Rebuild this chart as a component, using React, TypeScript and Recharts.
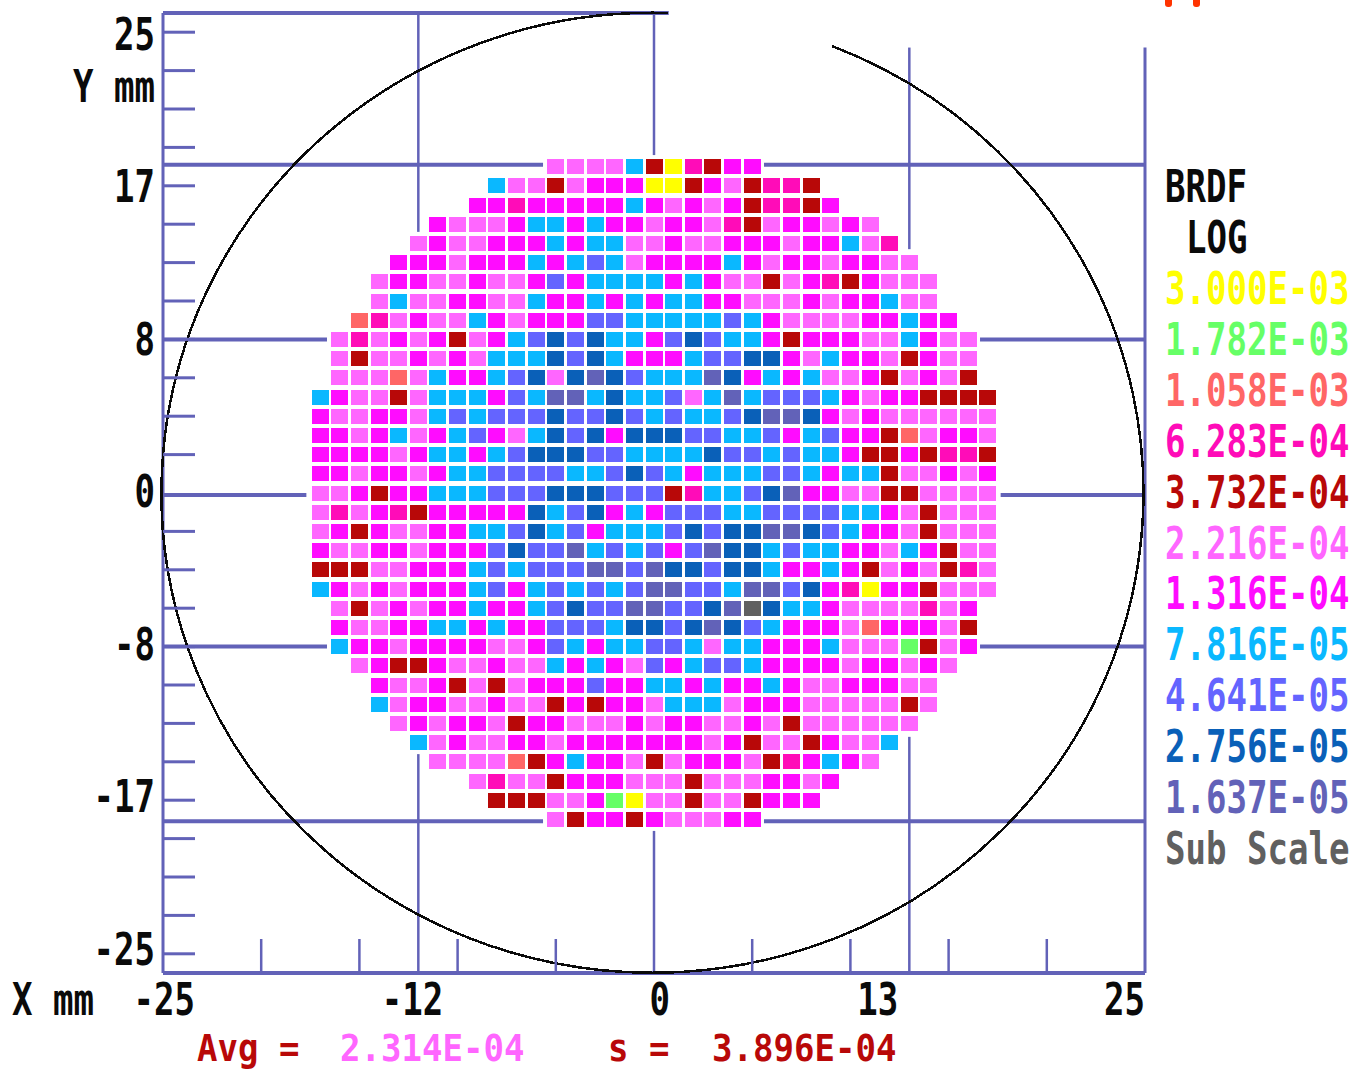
import { ScatterChart, Scatter, XAxis, YAxis, ReferenceLine, ReferenceDot } from "recharts";

const levelCodes = ["Y", "G", "O", "H", "R", "L", "M", "C", "P", "B", "S", "D"];
const levelLabels = [
  "3.000E-03", "1.782E-03", "1.058E-03", "6.283E-04", "3.732E-04", "2.216E-04",
  "1.316E-04", "7.816E-05", "4.641E-05", "2.756E-05", "1.637E-05", "Sub Scale",
];
const levelColors = [
  "#ffff00", "#66ff66", "#ff6666", "#ff0cb8", "#b80808", "#ff66ff",
  "#ff0cff", "#0ab8ff", "#6464ff", "#0a60b8", "#6262b8", "#606060",
];

// one string per die row, top (y = 17) to bottom (y = -17); rowStarts gives the first column of each
const rowStarts = [12, 9, 8, 6, 5, 4, 3, 3, 2, 1, 1, 1, 0, 0, 0, 0, 0, 0, 0, 0, 0, 0, 0, 1, 1, 1, 2, 3, 3, 4, 5, 6, 8, 9, 12];
const rowCells = [
  "LLLLCRYHRMM",
  "CLLRLMMMYYRMLRHHR",
  "MMHMMMMMCMLMLMRHHRM",
  "MLLLMCCMCMMLMMLHRLMMLML",
  "LMLLMMMCMCCLLMLLMMMLMMCLH",
  "MMMLMMMCMCPCLMMMMCMLMMLMMLL",
  "LMMLLMLLMPMCCCCMCMLLRLMHRMLLL",
  "LCLLMMLLCMMCMCMCCMMLLLMLMMCLL",
  "OHLMLLCMLMMMPPCCCCCPCMLLLLMMCMM",
  "LHLMLMRLMCPBPBCCMPBPCCMRMMMLLCMLL",
  "LRLLMLMLCCCBPBCMMMCPPBBMLCMMLRMLL",
  "LLLOLCMMCPBLBSBPCCCSBMCMCLLMRLMLR",
  "CMLLRLCCCMPCSSCBCCPLCSCPPPCMLMMRRRR",
  "MLLMMLCPCPPPBPPBPCPCCPBSSBMLMLLLLLL",
  "MMLMCLMCPMLCBPBMBBBPPCCPMCPMMROLMML",
  "MMMMLMCCMCPBBBPPCCCCBPPCPCCMRRMRHHR",
  "MMLMMLMCCPPPPCCPBPCMCCCPPCMCCRLLMLM",
  "LLMRMMCCCPPPBBBPPPRHCCPBSMMLLRRLLLL",
  "LHLMHRMMMMMBCPBMCMPPPCCPPPPCCMLRLLL",
  "LMRMLLMMCCPBCPMCCCPBPBBSSBPCMMLRLLL",
  "MLLMMLMMMPBPPSCPCPMPSBBCPCCMMLCMRLL",
  "RRRLLMMMCPCPPPSSPSBBPBBCMMCMRLMLRHL",
  "CMLMLMMMCPMCPCPCPSSPPCSSPBMHYMMRLLL",
  "LRLMLMMCMMCPBPPSSPPBSDBCCMLLLLHLM",
  "MLLMMCCMCMMPPPCBBPBSBPCMMMLOMMMLR",
  "CMMLMMMMLLMPCMCCPPCLCCMMMCLLLGRLM",
  "LMRRMLLMLLCMCMLPMCPPCMMMMLMMLML",
  "MLLMRLRLMMMPMMCCMCMMCMLLMMMLL",
  "CLMMLLMLLRMRMMLCCCLMMMLLLLLRL",
  "LMLMMLRMMLLLMLMMLLMLRLLLLLL",
  "CLMLLMMLMMMMMMMLMRLLRMLLC",
  "LLLLORMCMMLRLMMMLRHMCML",
  "LHLLRMMMLLLRLLLMMLM",
  "RRRLLMGYLLRLLRMMM",
  "LRMMRMLLLMM",
];

const xMinorTicks = [-25, -20, -15, -12, -10, -5, 0, 5, 10, 13, 15, 20, 25];
const yMinorTicks = [-24, -22, -20, -18, -16, -14, -12, -10, -8, -6, -4, -2, 0, 2, 4, 6, 8, 10, 12, 14, 16, 18, 20, 22, 24];
const xTickValues = [-25, -12, 0, 13, 25];
const xTickLabels = ["-25", "-12", "0", "13", "25"];
const xTickShift = [32, 25, 16, -11, 0];
const yTickValues = [24, 16, 8, 0, -8, -16, -24];
const yTickLabels = ["25", "17", "8", "0", "-8", "-17", "-25"];
const yTickShift = [3, 1, 1, -1, -2, -3, -4];

const avgValue = "2.314E-04";
const sigmaValue = "3.896E-04";

const frameColor = "#6262b8";
const charWidth = 20.5;

const cellData = levelCodes.map((code) => {
  const points: { x: number; y: number }[] = [];
  rowCells.forEach((row, r) => {
    row.split("").forEach((c, i) => {
      if (c === code) points.push({ x: rowStarts[r] + i - 17, y: 17 - r });
    });
  });
  return points;
});

function DosText({ x, y, text, color = "#0a0a0a", anchor = "start", size = 44 }: any) {
  const scaleX = charWidth / (size * 0.602);
  return (
    <text
      transform={`translate(${x} ${y + 15}) scale(${scaleX} 1)`}
      fill={color}
      textAnchor={anchor}
      fontFamily="'DejaVu Sans Mono', monospace"
      fontWeight="bold"
      fontSize={size}
    >
      {text}
    </text>
  );
}

function DieCell({ cx, cy, fill }: any) {
  return <rect x={cx - 8.5} y={cy - 7.5} width={17} height={15} fill={fill} shapeRendering="crispEdges" />;
}

function WaferOutline({ cx, cy }: any) {
  const rx = 491;
  const ry = 480;
  return (
    <path
      d={`M ${cx + 14} ${cy - ry} A ${rx} ${ry} 0 1 0 ${cx + 178} ${cy - 447}`}
      fill="none"
      stroke="#0a0a0a"
      strokeWidth={2.5}
      shapeRendering="crispEdges"
    />
  );
}

function XTick({ x, y, payload }: any) {
  const v = payload.value;
  const idx = xTickValues.indexOf(v);
  return (
    <g>
      {v % 5 === 0 && Math.abs(v) !== 25 && v !== 0 ? (
        <line x1={x} x2={x} y1={y} y2={y - 34} stroke={frameColor} strokeWidth={2.5} />
      ) : null}
      {idx >= 0 ? <DosText x={x + xTickShift[idx]} y={1000} text={xTickLabels[idx]} anchor="end" /> : null}
    </g>
  );
}

function YTick({ x, y, payload }: any) {
  const idx = yTickValues.indexOf(payload.value);
  return (
    <g>
      {payload.value !== 0 ? <line x1={x} x2={x + 32} y1={y} y2={y} stroke={frameColor} strokeWidth={3} /> : null}
      {idx >= 0 ? <DosText x={155} y={y + yTickShift[idx]} text={yTickLabels[idx]} anchor="end" /> : null}
    </g>
  );
}

function gridLine(key: string, p1: { x: number; y: number }, p2: { x: number; y: number }, width: number) {
  return <ReferenceLine key={key} segment={[p1, p2]} stroke={frameColor} strokeWidth={width} ifOverflow="visible" />;
}

export default function App() {
  return (
    <div style={{ position: "absolute", left: 0, top: 0, width: 1351, height: 1071, background: "#fff" }}>
      <ScatterChart width={1351} height={1071} margin={{ top: 13, right: 206, bottom: 0, left: 0 }}>
        <XAxis
          type="number"
          dataKey="x"
          domain={[-25, 25]}
          ticks={xMinorTicks}
          interval={0}
          height={98}
          tick={XTick}
          tickLine={false}
          tickSize={0}
          tickMargin={0}
          axisLine={{ stroke: frameColor, strokeWidth: 4 }}
        />
        <YAxis
          type="number"
          dataKey="y"
          domain={[-25, 25]}
          ticks={yMinorTicks}
          interval={0}
          width={163}
          tick={YTick}
          tickLine={false}
          tickSize={0}
          tickMargin={0}
          axisLine={{ stroke: frameColor, strokeWidth: 3 }}
        />

        {/* frame and cross hairs, broken around the wafer and top right */}
        {gridLine("top", { x: -25, y: 25 }, { x: 0.75, y: 25 }, 4)}
        {gridLine("right", { x: 25, y: 23.2 }, { x: 25, y: -25 }, 3)}
        {gridLine("v1a", { x: -12, y: 25 }, { x: -12, y: 13.6 }, 2.5)}
        {gridLine("v1b", { x: -12, y: -13.6 }, { x: -12, y: -25 }, 2.5)}
        {gridLine("v2a", { x: 0, y: 25 }, { x: 0, y: 17.6 }, 2.5)}
        {gridLine("v2b", { x: 0, y: -17.6 }, { x: 0, y: -25 }, 2.5)}
        {gridLine("v3a", { x: 13, y: 23.2 }, { x: 13, y: 12.7 }, 2.5)}
        {gridLine("v3b", { x: 13, y: -12.7 }, { x: 13, y: -25 }, 2.5)}
        {gridLine("h1a", { x: -25, y: 17.1 }, { x: -5.65, y: 17.1 }, 4)}
        {gridLine("h1b", { x: 5.6, y: 17.1 }, { x: 25, y: 17.1 }, 4)}
        {gridLine("h2a", { x: -25, y: 8 }, { x: -16.65, y: 8 }, 4)}
        {gridLine("h2b", { x: 16.6, y: 8 }, { x: 25, y: 8 }, 4)}
        {gridLine("h3a", { x: -25, y: -0.1 }, { x: -17.7, y: -0.1 }, 4)}
        {gridLine("h3b", { x: 17.65, y: -0.1 }, { x: 25, y: -0.1 }, 4)}
        {gridLine("h4a", { x: -25, y: -8 }, { x: -16.65, y: -8 }, 4)}
        {gridLine("h4b", { x: 16.6, y: -8 }, { x: 25, y: -8 }, 4)}
        {gridLine("h5a", { x: -25, y: -17.1 }, { x: -5.65, y: -17.1 }, 4)}
        {gridLine("h5b", { x: 5.6, y: -17.1 }, { x: 25, y: -17.1 }, 4)}

        <ReferenceDot x={0} y={0} r={1} shape={WaferOutline} ifOverflow="visible" />

        {levelCodes.map((code, i) => (
          <Scatter
            key={code}
            name={levelLabels[i]}
            data={cellData[i]}
            fill={levelColors[i]}
            shape={DieCell}
            isAnimationActive={false}
          />
        ))}

        <rect x={1165} y={-6} width={7} height={13} rx={3} fill="#ff3300" />
        <rect x={1193} y={-6} width={7} height={13} rx={3} fill="#ff3300" />

        <DosText x={1165} y={187} text="BRDF" />
        <DosText x={1186} y={238} text="LOG" />
        {levelLabels.map((label, i) => (
          <DosText key={label} x={1165} y={289 + i * 50.9} text={label} color={levelColors[i]} />
        ))}

        <DosText x={155} y={87} text="Y mm" anchor="end" />
        <DosText x={12} y={1000} text="X mm" />
        <DosText x={197} y={1046} size={38} text="Avg =" color={levelColors[4]} />
        <DosText x={340} y={1046} size={38} text={avgValue} color={levelColors[5]} />
        <DosText x={608} y={1046} size={38} text="s =" color={levelColors[4]} />
        <DosText x={712} y={1046} size={38} text={sigmaValue} color={levelColors[4]} />
      </ScatterChart>
    </div>
  );
}
